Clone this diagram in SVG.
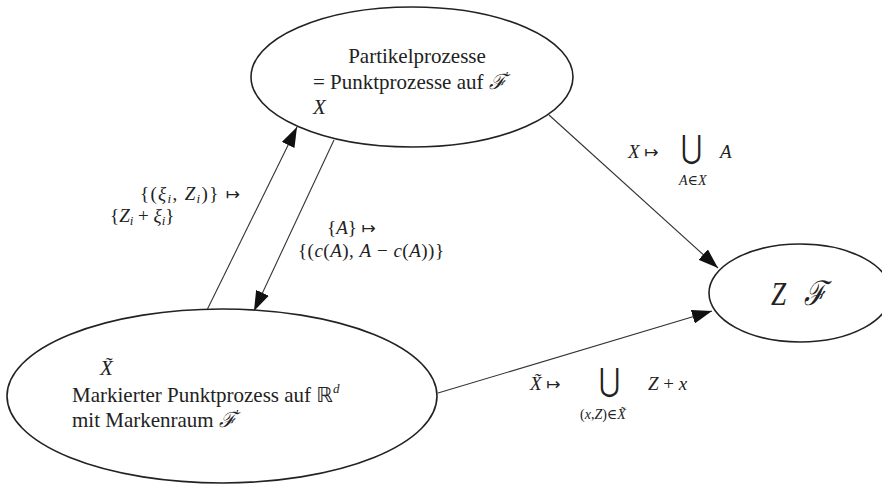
<svg xmlns="http://www.w3.org/2000/svg" width="882" height="485" viewBox="0 0 882 485">
<defs>
<marker id="ah" markerUnits="userSpaceOnUse" markerWidth="20" markerHeight="14" refX="20" refY="7" orient="auto">
<path d="M0,0 L20,7 L0,14 z" fill="#111"/>
</marker>
<style>
.node{fill:#fff;stroke:#222;stroke-width:1.6}
.edge{fill:none;stroke:#333;stroke-width:1.1;marker-end:url(#ah)}
text{font-family:"Liberation Serif","DejaVu Serif",serif;fill:#222;font-size:21px}
text.lab{font-size:19px}
.m{font-style:italic}
.sym{font-family:"DejaVu Sans","Liberation Serif",sans-serif}
text.small{font-size:14px}
text.big{font-size:32px}
text.zf{font-size:34px}
</style>
</defs>
<rect width="882" height="485" fill="#fff"/>
<g id="connectors">
<line class="edge" x1="207" y1="310" x2="297" y2="127"/>
<line class="edge" x1="334" y1="140" x2="254" y2="311"/>
<line class="edge" x1="549" y1="115" x2="718" y2="268"/>
<line class="edge" x1="438" y1="393" x2="712" y2="311"/>
</g>
<g id="labels">
<text class="lab" x="140" y="200" textLength="100">{(<tspan class="m">ξ</tspan><tspan class="m" font-size="13" dy="3">i</tspan><tspan dy="-3">, </tspan><tspan class="m">Z</tspan><tspan class="m" font-size="13" dy="3">i</tspan><tspan dy="-3">)} </tspan><tspan class="sym" font-size="17">↦</tspan></text>
<text class="lab" x="110" y="222">{<tspan class="m">Z</tspan><tspan class="m" font-size="13" dy="3">i</tspan><tspan dy="-3"> + </tspan><tspan class="m">ξ</tspan><tspan class="m" font-size="13" dy="3">i</tspan><tspan dy="-3">}</tspan></text>
<text class="lab" x="327" y="234">{<tspan class="m">A</tspan>} <tspan class="sym" font-size="17">↦</tspan></text>
<text class="lab" x="298" y="257" textLength="146">{(<tspan class="m">c</tspan>(<tspan class="m">A</tspan>), <tspan class="m">A</tspan> − <tspan class="m">c</tspan>(<tspan class="m">A</tspan>))}</text>
<text class="lab" x="628" y="158"><tspan class="m">X</tspan> <tspan class="sym" font-size="17">↦</tspan></text>
<text class="sym big" transform="translate(681,158) scale(0.8,1)">⋃</text>
<text class="lab m" x="720" y="158">A</text>
<text class="m small" x="679" y="185">A<tspan font-style="normal">∈</tspan>X</text>
<text class="lab" x="530" y="390"><tspan class="m">X̃</tspan> <tspan class="sym" font-size="17">↦</tspan></text>
<text class="sym big" transform="translate(599,391) scale(0.8,1)">⋃</text>
<text class="lab" x="648" y="390"><tspan class="m">Z</tspan> + <tspan class="m">x</tspan></text>
<text class="small" x="580" y="419">(<tspan class="m">x</tspan>,<tspan class="m">Z</tspan>)∈<tspan class="m">X̃</tspan></text>
</g>
<g id="node-partikel">
<ellipse class="node" cx="412" cy="77" rx="161" ry="70"/>
<text x="417" y="63" text-anchor="middle">Partikelprozesse</text>
<text x="313" y="89">= Punktprozesse auf <tspan class="m">ℱ</tspan><tspan font-size="13" dy="-9">′</tspan></text>
<text class="m" x="313" y="114">X</text>
</g>
<g id="node-markiert">
<ellipse class="node" cx="222" cy="396" rx="215" ry="87"/>
<text class="m" x="100" y="375">X̃</text>
<text x="72" y="402">Markierter Punktprozess auf <tspan class="sym">ℝ</tspan><tspan class="m" font-size="13" dy="-9">d</tspan></text>
<text x="72" y="427">mit Markenraum <tspan class="m">ℱ</tspan><tspan font-size="13" dy="-9">′</tspan></text>
</g>
<g id="node-zf">
<ellipse class="node" cx="800" cy="293" rx="91" ry="49"/>
<text class="m zf" transform="translate(771,305) scale(0.8,1)">Z</text>
<text class="m zf" transform="translate(804,305) scale(0.8,1)">ℱ</text>
</g>
</svg>
